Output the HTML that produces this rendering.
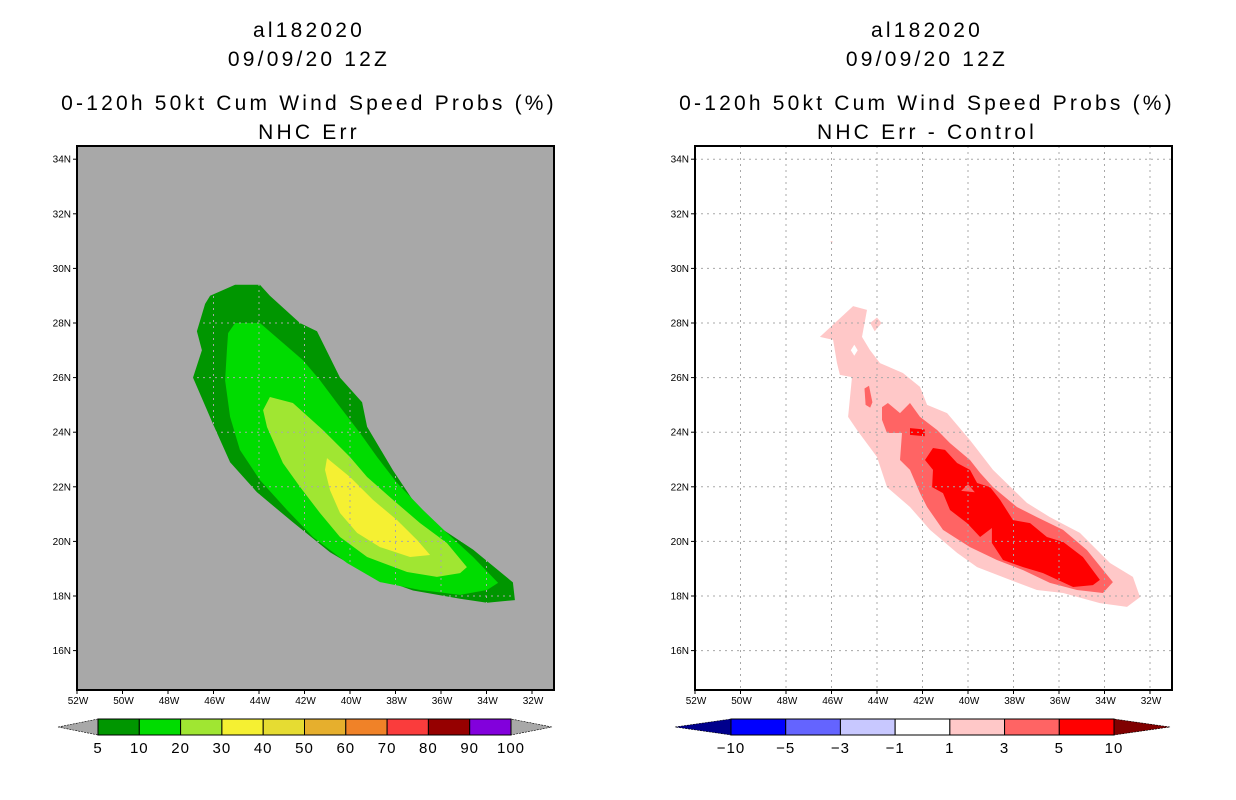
<!DOCTYPE html>
<html><head><meta charset="utf-8">
<style>
body{margin:0;background:#fff;width:1236px;height:800px;overflow:hidden;font-family:"Liberation Sans",sans-serif}
svg{display:block}
.t{font-size:21px;text-anchor:middle;fill:#000;letter-spacing:3.2px}
.tick{font-size:10px;fill:#000}
.cb{font-size:15px;text-anchor:middle;fill:#000;letter-spacing:1px}
</style></head>
<body>
<svg id="s" width="1236" height="800"></svg>
<script>
const latTicks=[16,18,20,22,24,26,28,30,32,34];
const lonTicks=[-52,-50,-48,-46,-44,-42,-40,-38,-36,-34,-32];
// Left panel contours (lon, lat)
const p5Lon=[-46.15,-45.05,-43.96,-43.52,-42.2,-41.45,-40.44,-39.47,-39.25,-38.11,-37.23,-36.04,-34.59,-32.84,-32.75,-33.98,-35.16,-37.23,-39.25,-40.88,-42.51,-44.09,-45.27,-46.02,-46.9,-46.51,-46.73,-46.37];
const p5Lat=[29.0,29.4,29.4,29.0,28.0,27.7,26.0,25.1,24.2,22.6,21.5,20.5,19.7,18.5,17.85,17.75,17.9,18.2,18.8,19.6,20.7,21.8,22.9,24.3,26.0,27.0,27.7,28.7];
const p10Lon=[-45.05,-43.96,-42.07,-41.32,-40.57,-39.56,-38.81,-37.93,-36.79,-35.74,-34.59,-33.49,-33.98,-35.16,-36.92,-38.68,-40.13,-41.63,-42.77,-43.96,-44.84,-45.27,-45.49,-45.41,-45.36];
const p10Lat=[28.0,28.0,26.64,25.9,25.07,23.97,23.09,22.14,21.15,20.31,19.43,18.48,18.22,18.04,18.22,18.51,19.21,20.16,21.15,22.25,23.35,24.56,25.9,27.0,27.63];
const p20Lon=[-43.52,-42.51,-41.19,-40.0,-39.25,-38.11,-36.92,-35.74,-34.86,-35.16,-36.18,-37.49,-39.25,-40.44,-41.32,-42.2,-42.95,-43.65,-43.82];
const p20Lat=[25.29,25.07,24.08,23.09,22.36,21.52,20.67,19.94,19.06,18.84,18.70,18.88,19.43,20.16,21.04,22.0,22.87,24.19,24.81];
const p30Lon=[-41.01,-40.0,-38.99,-37.93,-37.05,-36.48,-37.36,-38.68,-39.69,-40.44,-40.88,-41.1];
const p30Lat=[23.05,22.36,21.52,20.78,20.05,19.5,19.43,19.79,20.31,21.04,21.88,22.62];
// Right panel difference contours
const d1Lon=[-46.51,-45.05,-44.44,-44.66,-44.31,-43.87,-42.86,-42.11,-41.8,-40.92,-39.91,-38.9,-37.41,-36.4,-35.08,-33.76,-32.75,-32.44,-33.01,-34.2,-35.82,-36.97,-38.15,-39.6,-40.48,-41.67,-42.55,-43.56,-44.0,-44.88,-45.27,-45.1,-45.63,-45.76,-45.93];
const d1Lat=[27.49,28.62,28.48,27.49,27.01,26.53,26.17,25.66,25.0,24.7,23.71,22.62,21.41,20.89,20.31,19.21,18.7,17.96,17.6,17.74,18.11,18.22,18.59,19.06,19.58,20.42,21.26,21.99,23.09,24.08,24.56,26.02,26.1,26.53,27.38];
const d3Lon=[-43.78,-43.52,-42.99,-42.55,-42.11,-41.36,-40.79,-39.91,-39.47,-38.9,-37.85,-36.97,-35.82,-34.77,-33.63,-34.07,-35.21,-36.4,-37.58,-38.73,-39.91,-41.1,-41.8,-42.11,-42.55,-42.99,-42.9,-43.56,-43.78];
const d3Lat=[24.92,25.07,24.7,25.07,24.56,24.08,23.6,22.98,22.51,21.99,21.26,20.89,20.42,19.68,18.51,18.11,18.22,18.48,18.95,19.32,19.79,20.42,21.26,21.77,22.62,22.98,23.97,23.97,24.45];
const d5Lon=[-41.54,-41.01,-40.48,-39.91,-39.6,-39.03,-38.59,-38.02,-37.27,-36.53,-35.82,-34.95,-34.2,-34.51,-35.38,-36.7,-37.58,-38.46,-38.95,-38.95,-39.47,-40.04,-40.79,-41.1,-41.58,-41.54,-41.89];
const d5Lat=[23.42,23.35,22.87,22.62,22.14,21.99,21.52,20.78,20.67,20.16,19.98,19.43,18.59,18.4,18.33,18.84,19.06,19.32,19.94,20.49,20.16,20.67,21.15,21.77,21.99,22.62,22.98];
const leftLevels=["5","10","20","30","40","50","60","70","80","90","100"];
const leftColors=["#009600","#00dc00","#a0e632","#f5f032","#e6dc32","#e6af2d","#f08228","#fa3c3c","#960000","#8200dc"];
const rightLevels=["−10","−5","−3","−1","1","3","5","10"];
const rightColors=["#0000ff","#6464ff","#c8c8ff","#ffffff","#ffc8c8","#ff6464","#ff0000"];

const NS="http://www.w3.org/2000/svg";
const svg=document.getElementById('s');
function mk(tag,attrs,parent){const e=document.createElementNS(NS,tag);for(const k in attrs)e.setAttribute(k,attrs[k]);(parent||svg).appendChild(e);return e;}
const Y0=146,Y1=690;
function xs(ox){return lon=>ox+(lon+52)*22.75;}
function ys(lat){return 596-(lat-18)*27.3;}
function poly(g,x,lons,lats,fill,name){
  const pts=lons.map((l,i)=>x(l).toFixed(1)+','+ys(lats[i]).toFixed(1)).join(' ');
  const p=mk('polygon',{points:pts,fill:fill},g);
  
  
  return p;
}
function panel(ox,bg,name,titles,drawFn){
  const g=mk('g',{});
  
  
  const cx=ox+232;
  const tys=[37,66,110,139];
  titles.forEach((t,i)=>{const e=mk('text',{x:cx,y:tys[i],class:'t'},g);e.textContent=t;
    
    });
  const clipId='c'+ox;
  const cp=mk('clipPath',{id:clipId},g);mk('rect',{x:ox,y:Y0,width:477,height:Y1-Y0},cp);
  const bgr=mk('rect',{x:ox,y:Y0,width:477,height:Y1-Y0,fill:bg},g);
  
  
  const inner=mk('g',{'clip-path':'url(#'+clipId+')'},g);
  const x=xs(ox);
  drawFn(inner,x);
  const gg=mk('g',{stroke:'#a8a8a8','stroke-width':1,'stroke-dasharray':'2,4'},inner);
  
  
  lonTicks.forEach(l=>mk('line',{x1:x(l),x2:x(l),y1:Y0,y2:Y1},gg));
  latTicks.forEach(l=>mk('line',{x1:ox,x2:ox+477,y1:ys(l),y2:ys(l)},gg));
  const fr=mk('rect',{x:ox,y:Y0,width:477,height:Y1-Y0,fill:'none',stroke:'#000','stroke-width':2},g);
  
  
  latTicks.forEach(l=>{mk('line',{x1:ox-4,x2:ox,y1:ys(l),y2:ys(l),stroke:'#000'},g);
    const t=mk('text',{x:ox-6,y:ys(l)+3.5,class:'tick','text-anchor':'end'},g);t.textContent=l+'N';
    
    });
  lonTicks.forEach(l=>{mk('line',{x1:x(l),x2:x(l),y1:Y1,y2:Y1+4,stroke:'#000'},g);
    const t=mk('text',{x:x(l)+1,y:Y1+14,class:'tick','text-anchor':'middle'},g);t.textContent=(-l)+'W';
    
    });
}
panel(77,'#a8a8a8','left-panel',['al182020','09/09/20 12Z','0-120h 50kt Cum Wind Speed Probs (%)','NHC Err'],(g,x)=>{
  poly(g,x,p5Lon,p5Lat,leftColors[0],'contour-5');
  poly(g,x,p10Lon,p10Lat,leftColors[1],'contour-10');
  poly(g,x,p20Lon,p20Lat,leftColors[2],'contour-20');
  poly(g,x,p30Lon,p30Lat,leftColors[3],'contour-30');
});
panel(695,'#ffffff','right-panel',['al182020','09/09/20 12Z','0-120h 50kt Cum Wind Speed Probs (%)','NHC Err - Control'],(g,x)=>{
  poly(g,x,d1Lon,d1Lat,rightColors[4],'contour-diff-1');
  poly(g,x,[-44.3,-44.0,-43.8,-44.1],[28.0,28.2,28.0,27.7],rightColors[4],'contour-diff-1-islet');
  poly(g,x,[-46.05,-45.95,-45.98],[31.0,31.0,30.9],rightColors[4],'contour-diff-1-speck');
  poly(g,x,[-45.15,-45.0,-44.85,-45.0],[27.0,27.2,27.0,26.8],'#ffffff','contour-diff-hole');
  poly(g,x,d3Lon,d3Lat,rightColors[5],'contour-diff-3');
  poly(g,x,[-44.55,-44.35,-44.2,-44.3,-44.5],[25.6,25.7,25.1,24.9,25.0],rightColors[5],'contour-diff-3-blob');
  poly(g,x,d5Lon,d5Lat,rightColors[6],'contour-diff-5');
  poly(g,x,[-40.3,-40.0,-39.7],[21.85,22.1,21.8],rightColors[5],'contour-diff-5-hole');
  poly(g,x,[-42.55,-41.9,-41.9,-42.55],[24.15,24.1,23.85,23.9],rightColors[6],'contour-diff-5-islet');
});
// Colorbars
function colorbar(x0,x1,x2,x3,colors,labels,lt,rt,name){
  const g=mk('g',{});
  
  
  const yT=719,yB=735,ym=727;
  const w=(x2-x1)/colors.length;
  mk('polygon',{points:`${x0},${ym} ${x1},${yT} ${x1},${yB}`,fill:lt,stroke:'#000','stroke-width':0.6,'stroke-dasharray':'2,1'},g);
  mk('polygon',{points:`${x3},${ym} ${x2},${yT} ${x2},${yB}`,fill:rt,stroke:'#000','stroke-width':0.6,'stroke-dasharray':'2,1'},g);
  colors.forEach((c,i)=>{const r=mk('rect',{x:x1+i*w,y:yT,width:w,height:yB-yT,fill:c,stroke:'#000','stroke-width':1},g);
    
    });
  labels.forEach((l,i)=>{const t=mk('text',{x:x1+i*w,y:yB+18,class:'cb'},g);t.textContent=l;
    
    });
}
colorbar(58,98,511,552,leftColors,leftLevels,'#a8a8a8','#a8a8a8','left-colorbar');
colorbar(675,731,1114,1170,rightColors,rightLevels,'#00008c','#800000','right-colorbar');
</script>
</body></html>
